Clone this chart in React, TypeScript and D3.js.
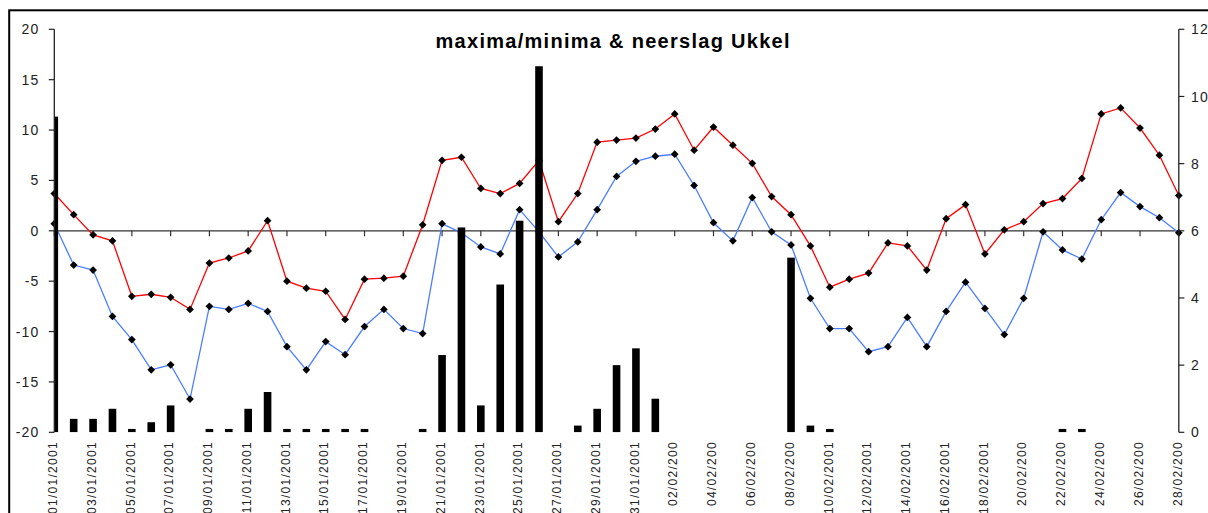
import React from 'react';
import * as d3 from 'd3';

const days: string[] = [
  '01/01/2001','02/01/2001','03/01/2001','04/01/2001','05/01/2001','06/01/2001','07/01/2001','08/01/2001','09/01/2001','10/01/2001',
  '11/01/2001','12/01/2001','13/01/2001','14/01/2001','15/01/2001','16/01/2001','17/01/2001','18/01/2001','19/01/2001','20/01/2001',
  '21/01/2001','22/01/2001','23/01/2001','24/01/2001','25/01/2001','26/01/2001','27/01/2001','28/01/2001','29/01/2001','30/01/2001',
  '31/01/2001','01/02/2001','02/02/2001','03/02/2001','04/02/2001','05/02/2001','06/02/2001','07/02/2001','08/02/2001','09/02/2001',
  '10/02/2001','11/02/2001','12/02/2001','13/02/2001','14/02/2001','15/02/2001','16/02/2001','17/02/2001','18/02/2001','19/02/2001',
  '20/02/2001','21/02/2001','22/02/2001','23/02/2001','24/02/2001','25/02/2001','26/02/2001','27/02/2001','28/02/2001'
];

// labels shown on the category axis (every second day), as printed
const tickLabels: string[] = [
  '01/01/2001','03/01/2001','05/01/2001','07/01/2001','09/01/2001','11/01/2001','13/01/2001','15/01/2001','17/01/2001','19/01/2001',
  '21/01/2001','23/01/2001','25/01/2001','27/01/2001','29/01/2001','31/01/2001','02/02/200','04/02/200','06/02/200','08/02/200',
  '10/02/2001','12/02/2001','14/02/2001','16/02/2001','18/02/2001','20/02/200','22/02/200','24/02/200','26/02/200','28/02/200'
];

const tMax: number[] = [
  3.7, 1.6, -0.4, -1.0, -6.5, -6.3, -6.6, -7.8, -3.2, -2.7,
  -2.0, 1.0, -5.0, -5.7, -6.0, -8.8, -4.8, -4.7, -4.5, 0.6,
  7.0, 7.3, 4.2, 3.7, 4.7, 7.0, 0.9, 3.7, 8.8, 9.0,
  9.2, 10.1, 11.6, 8.0, 10.3, 8.5, 6.7, 3.4, 1.6, -1.5,
  -5.6, -4.8, -4.2, -1.2, -1.5, -3.9, 1.2, 2.6, -2.3, 0.1,
  0.9, 2.7, 3.2, 5.2, 11.6, 12.2, 10.2, 7.5, 3.5
];

const tMin: number[] = [
  0.7, -3.4, -3.9, -8.5, -10.8, -13.8, -13.3, -16.7, -7.5, -7.8,
  -7.2, -8.0, -11.5, -13.8, -11.0, -12.3, -9.5, -7.8, -9.7, -10.2,
  0.7, -0.2, -1.6, -2.3, 2.1, -0.1, -2.6, -1.1, 2.1, 5.4,
  6.9, 7.4, 7.6, 4.5, 0.8, -1.0, 3.3, -0.1, -1.4, -6.7,
  -9.7, -9.7, -12.0, -11.5, -8.6, -11.5, -8.0, -5.1, -7.7, -10.3,
  -6.7, -0.1, -1.9, -2.8, 1.1, 3.8, 2.4, 1.3, -0.2
];

const rain: number[] = [
  9.4, 0.4, 0.4, 0.7, 0.1, 0.3, 0.8, 0, 0.1, 0.1,
  0.7, 1.2, 0.1, 0.1, 0.1, 0.1, 0.1, 0, 0, 0.1,
  2.3, 6.1, 0.8, 4.4, 6.3, 10.9, 0, 0.2, 0.7, 2.0,
  2.5, 1.0, 0, 0, 0, 0, 0, 0, 5.2, 0.2,
  0.1, 0, 0, 0, 0, 0, 0, 0, 0, 0,
  0, 0, 0.1, 0.1, 0, 0, 0, 0, 0
];

const leftTicks: number[] = [20, 15, 10, 5, 0, -5, -10, -15, -20];
const rightTicks: number[] = [12, 10, 8, 6, 4, 2, 0];

const W = 1208;
const H = 513;
const X0 = 54.3;
const X1 = 1178.8;
const YT = 29.3;
const YB = 432.3;
const FONT = "'Liberation Sans', Arial, sans-serif";

export default function App() {
  const idx = days.map((_, i) => i);
  const x = d3.scalePoint<number>().domain(idx).range([X0, X1]);
  const yL = d3.scaleLinear().domain([-20, 20]).range([YB, YT]);
  const yR = d3.scaleLinear().domain([0, 12]).range([YB, YT]);
  const barW = 7.6;

  const lineGen = (vals: number[]) =>
    d3.line<number>().x((_, i) => x(i) as number).y((v) => yL(v))(vals) || '';

  const diamond = d3.symbol().type(d3.symbolSquare).size(30)() || '';

  const y0 = yL(0);

  return (
    <svg
      width={W}
      height={H}
      style={{ position: 'absolute', left: 0, top: 0, background: '#fff' }}
      fontFamily={FONT}
    >
      <defs>
        <clipPath id="plotClip">
          <rect x={X0} y={0} width={X1 - X0} height={YB} />
        </clipPath>
      </defs>
      <rect x={0} y={0} width={W} height={H} fill="#fff" />
      {/* outer chart border */}
      <rect x={9.2} y={10.3} width={W + 40} height={H + 40} fill="none" stroke="#000" strokeWidth={2} />

      {/* title */}
      <text
        x={612.5}
        y={47.5}
        textAnchor="middle"
        fontWeight="bold"
        fontSize={20}
        textLength={354}
        lengthAdjust="spacing"
        fill="#000"
      >
        maxima/minima &amp; neerslag Ukkel
      </text>

      {/* zero line (category axis) */}
      <line x1={X0} x2={X1} y1={y0} y2={y0} stroke="#333" strokeWidth={1.2} />
      {idx.filter((i) => i % 2 === 0).map((i) => (
        <line key={'xt' + i} x1={x(i)} x2={x(i)} y1={y0} y2={y0 + 5.5} stroke="#333" strokeWidth={1.2} />
      ))}

      {/* lines */}
      <path d={lineGen(tMax)} fill="none" stroke="#ff0000" strokeWidth={1.3} />
      <path d={lineGen(tMin)} fill="none" stroke="#4a7dff" strokeWidth={1.3} />
      {tMax.map((v, i) => (
        <path key={'mx' + i} d={diamond} transform={`translate(${x(i)},${yL(v)}) rotate(45)`} fill="#000" />
      ))}
      {tMin.map((v, i) => (
        <path key={'mn' + i} d={diamond} transform={`translate(${x(i)},${yL(v)}) rotate(45)`} fill="#000" />
      ))}

      {/* precipitation bars (secondary axis) */}
      <g clipPath="url(#plotClip)">
        {rain.map((v, i) =>
          v > 0 ? (
            <rect
              key={'b' + i}
              x={(x(i) as number) - barW / 2}
              y={yR(v)}
              width={barW}
              height={yR(0) - yR(v)}
              fill="#000"
            />
          ) : null
        )}
      </g>

      {/* left axis */}
      <line x1={X0} x2={X0} y1={YT} y2={YB} stroke="#222" strokeWidth={1.3} />
      {leftTicks.map((t) => (
        <g key={'l' + t}>
          <line x1={X0 - 5.5} x2={X0} y1={yL(t)} y2={yL(t)} stroke="#222" strokeWidth={1.2} />
          <text x={39.5} y={yL(t)} dy="0.36em" textAnchor="end" fontSize={14} letterSpacing={1.2} fill="#222">
            {t}
          </text>
        </g>
      ))}

      {/* right axis */}
      <line x1={X1} x2={X1} y1={YT} y2={YB} stroke="#222" strokeWidth={1.3} />
      {rightTicks.map((t) => (
        <g key={'r' + t}>
          <line x1={X1} x2={X1 + 5.5} y1={yR(t)} y2={yR(t)} stroke="#222" strokeWidth={1.2} />
          <text x={1191} y={yR(t)} dy="0.36em" textAnchor="start" fontSize={14} letterSpacing={1.2} fill="#222">
            {t}
          </text>
        </g>
      ))}

      {/* category labels */}
      {tickLabels.map((lab, k) => {
        const cx = (x(k * 2) as number) - 1.6;
        const ty = 441;
        return (
          <text
            key={'xl' + k}
            transform={`translate(${cx},${ty}) rotate(-90)`}
            dy="0.36em"
            textAnchor="end"
            fontSize={12}
            letterSpacing={1.3}
            fill="#222"
          >
            {lab}
          </text>
        );
      })}
    </svg>
  );
}
